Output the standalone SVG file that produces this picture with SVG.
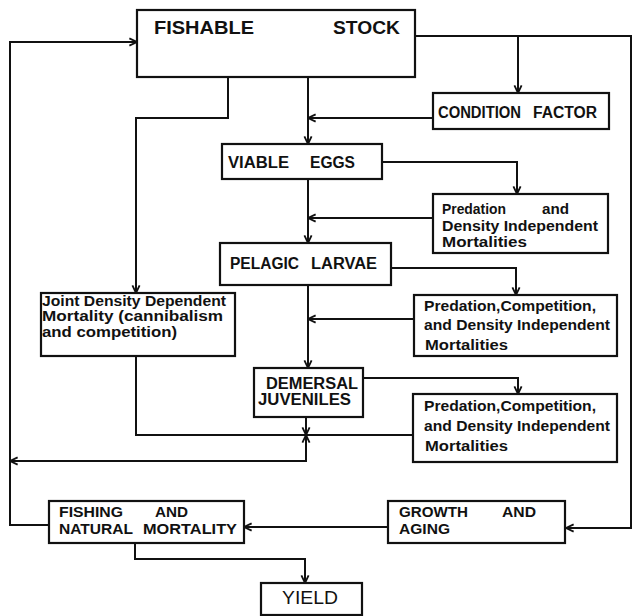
<svg xmlns="http://www.w3.org/2000/svg" width="632" height="616" viewBox="0 0 632 616">
<defs>
<style>
.box{fill:#fff;stroke:#111;stroke-width:2.2}
.ln{fill:none;stroke:#111;stroke-width:2}
.a{marker-end:url(#arr)}
text{font-family:"Liberation Sans",Arial,sans-serif;font-weight:bold;fill:#111}
.t18{font-size:18px}
.t16{font-size:16px}
.t15{font-size:15px}
.t14{font-size:14px}
.yl{font-size:19px;font-weight:normal}
</style>
<marker id="arr" viewBox="0 0 10 10" refX="9.5" refY="5" markerWidth="9" markerHeight="10" markerUnits="userSpaceOnUse" orient="auto-start-reverse">
<path d="M1,1 L9.5,5 L1,9" fill="none" stroke="#111" stroke-width="2"/>
</marker>
</defs>
<rect width="632" height="616" fill="#fff"/>
<g id="connectors">
<path class="ln a" d="M49,525 H10 V42 H137"/>
<path class="ln" d="M415,36 H631 V528 H566" marker-end="url(#arr)"/>
<path class="ln a" d="M518,36 V93"/>
<path class="ln a" d="M308,77 V144"/>
<path class="ln a" d="M433,118 H308"/>
<path class="ln a" d="M228,77 V118 H136 V293"/>
<path class="ln a" d="M382,162 H517 V194"/>
<path class="ln a" d="M433,218 H308"/>
<path class="ln a" d="M308,179 V243"/>
<path class="ln a" d="M391,268 H516 V295"/>
<path class="ln a" d="M414,319 H308"/>
<path class="ln a" d="M308,285 V368"/>
<path class="ln a" d="M363,378 H518 V394"/>
<path class="ln" d="M136,356 V435 H413"/>
<path class="ln a" d="M306,417 V435"/>
<path class="ln" d="M306,435 V461 H10" marker-start="url(#arr)" marker-end="url(#arr)"/>
<path class="ln a" d="M388,527 H244"/>
<path class="ln a" d="M135,543 V559 H305 V583"/>
</g>
<g id="fishable-stock">
<rect class="box" x="137" y="10" width="278" height="67"/>
<text class="t18" x="154" y="34" textLength="100" lengthAdjust="spacingAndGlyphs">FISHABLE</text>
<text class="t18" x="333" y="34" textLength="67" lengthAdjust="spacingAndGlyphs">STOCK</text>
</g>
<g id="condition-factor">
<rect class="box" x="433" y="93" width="176" height="36"/>
<text class="t16" x="438" y="118" textLength="83" lengthAdjust="spacingAndGlyphs">CONDITION</text>
<text class="t16" x="533" y="118" textLength="64" lengthAdjust="spacingAndGlyphs">FACTOR</text>
</g>
<g id="viable-eggs">
<rect class="box" x="222" y="144" width="160" height="35"/>
<text class="t16" x="228" y="168" textLength="61" lengthAdjust="spacingAndGlyphs">VIABLE</text>
<text class="t16" x="310" y="168" textLength="45" lengthAdjust="spacingAndGlyphs">EGGS</text>
</g>
<g id="predation-1">
<rect class="box" x="433" y="194" width="175" height="59"/>
<text class="t14" x="442" y="214" textLength="64" lengthAdjust="spacingAndGlyphs">Predation</text>
<text class="t14" x="542" y="214" textLength="27" lengthAdjust="spacingAndGlyphs">and</text>
<text class="t14" x="442" y="231" textLength="156" lengthAdjust="spacingAndGlyphs">Density Independent</text>
<text class="t14" x="442" y="247" textLength="85" lengthAdjust="spacingAndGlyphs">Mortalities</text>
</g>
<g id="pelagic-larvae">
<rect class="box" x="220" y="243" width="171" height="42"/>
<text class="t16" x="230" y="269" textLength="69" lengthAdjust="spacingAndGlyphs">PELAGIC</text>
<text class="t16" x="311" y="269" textLength="66" lengthAdjust="spacingAndGlyphs">LARVAE</text>
</g>
<g id="joint-density">
<rect class="box" x="41" y="293" width="194" height="63"/>
<text class="t14" x="42" y="306" textLength="184" lengthAdjust="spacingAndGlyphs">Joint Density Dependent</text>
<text class="t14" x="42" y="321" textLength="181" lengthAdjust="spacingAndGlyphs">Mortality (cannibalism</text>
<text class="t14" x="42" y="337" textLength="135" lengthAdjust="spacingAndGlyphs">and competition)</text>
</g>
<g id="predation-2">
<rect class="box" x="414" y="295" width="203" height="61"/>
<text class="t14" x="424" y="311" textLength="172" lengthAdjust="spacingAndGlyphs">Predation,Competition,</text>
<text class="t14" x="424" y="330" textLength="186" lengthAdjust="spacingAndGlyphs">and Density Independent</text>
<text class="t14" x="425" y="350" textLength="83" lengthAdjust="spacingAndGlyphs">Mortalities</text>
</g>
<g id="demersal-juveniles">
<rect class="box" x="254" y="368" width="109" height="49"/>
<text class="t16" x="266" y="389" textLength="92" lengthAdjust="spacingAndGlyphs">DEMERSAL</text>
<text class="t16" x="258" y="405" textLength="93" lengthAdjust="spacingAndGlyphs">JUVENILES</text>
</g>
<g id="predation-3">
<rect class="box" x="413" y="394" width="204" height="68"/>
<text class="t14" x="424" y="411" textLength="172" lengthAdjust="spacingAndGlyphs">Predation,Competition,</text>
<text class="t14" x="424" y="431" textLength="186" lengthAdjust="spacingAndGlyphs">and Density Independent</text>
<text class="t14" x="425" y="451" textLength="83" lengthAdjust="spacingAndGlyphs">Mortalities</text>
</g>
<g id="fishing-mortality">
<rect class="box" x="49" y="501" width="195" height="42"/>
<text class="t15" x="59" y="517" textLength="64" lengthAdjust="spacingAndGlyphs">FISHING</text>
<text class="t15" x="155" y="517" textLength="33" lengthAdjust="spacingAndGlyphs">AND</text>
<text class="t15" x="59" y="534" textLength="74" lengthAdjust="spacingAndGlyphs">NATURAL</text>
<text class="t15" x="143" y="534" textLength="94" lengthAdjust="spacingAndGlyphs">MORTALITY</text>
</g>
<g id="growth-aging">
<rect class="box" x="388" y="501" width="177" height="42"/>
<text class="t15" x="399" y="517" textLength="69" lengthAdjust="spacingAndGlyphs">GROWTH</text>
<text class="t15" x="502" y="517" textLength="34" lengthAdjust="spacingAndGlyphs">AND</text>
<text class="t15" x="399" y="534" textLength="51" lengthAdjust="spacingAndGlyphs">AGING</text>
</g>
<g id="yield">
<rect class="box" x="261" y="583" width="101" height="32"/>
<text class="yl" x="282" y="604" textLength="56" lengthAdjust="spacingAndGlyphs">YIELD</text>
</g>
</svg>
